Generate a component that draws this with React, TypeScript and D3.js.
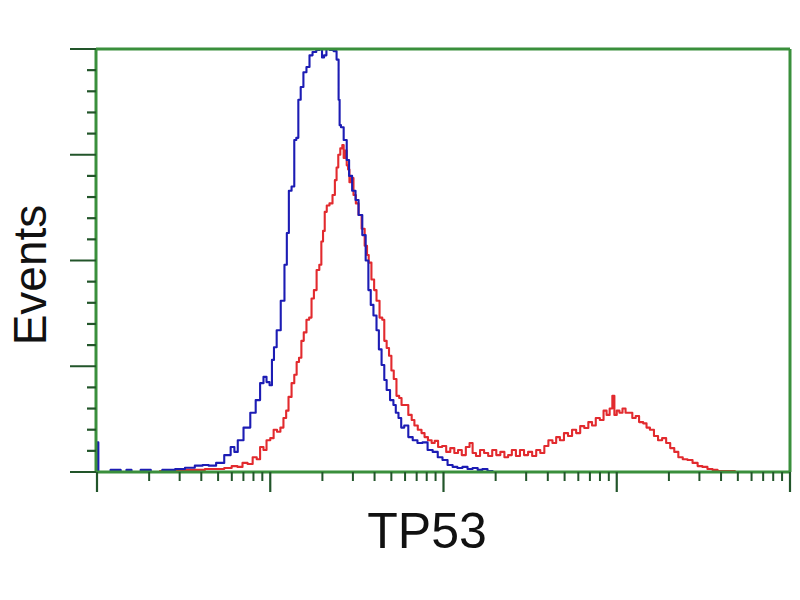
import React from "react";
import * as d3 from "d3";

// Histogram channels (0–1024 over 4 log decades) and event counts
const blueChannels = [0, 1, 3, 10, 30, 40, 47, 55, 74, 85, 108, 123, 137, 152, 160, 170, 182, 194, 201, 205, 211, 222, 231, 238, 244, 248, 253, 257, 260, 263, 268, 275, 279, 282, 285, 290, 293, 296, 299, 303, 307, 312, 316, 321, 327, 331, 334, 337, 341, 347, 352, 356, 358, 359, 362, 367, 371, 374, 380, 384, 389, 395, 399, 403, 406, 411, 415, 418, 423, 426, 430, 436, 440, 443, 448, 451, 457, 463, 470, 477, 485, 492, 500, 507, 514, 522, 529, 536, 544, 551, 559, 566, 573, 581, 588];
const blueCounts = [0, 14, 0, 0, 1, 0, 1, 0, 1, 0, 1, 1.4, 2, 3, 3.3, 3, 4.3, 8, 11.8, 9.5, 15, 21, 28, 34, 42, 45, 42.5, 41, 53, 59, 67, 81, 98, 113, 133, 135, 157, 158, 176, 182, 189, 191.5, 197, 198.6, 199.5, 200, 196, 197, 200, 199.5, 199, 195, 176, 164, 163, 157, 147.5, 140, 133, 128.6, 121.5, 112, 100, 86, 79, 74, 67, 58, 50.6, 43.5, 38.8, 34, 31.7, 28, 25.5, 21, 22, 16.5, 15, 13.7, 14, 10.4, 9.5, 7, 5.7, 3.3, 2.4, 1.9, 2.4, 1.4, 1.9, 1, 1.4, 0.5, 0];

const redChannels = [0, 78, 108, 137, 152, 167, 182, 194, 204, 211, 219, 226, 234, 238, 244, 248, 253, 259, 263, 269, 273, 278, 281, 285, 290, 293, 297, 300, 304, 307, 312, 315, 319, 322, 327, 330, 333, 335, 338, 341, 346, 350, 353, 355, 358, 361, 364, 365, 368, 370, 372, 374, 377, 381, 384, 389, 393, 398, 400, 403, 408, 411, 415, 420, 423, 426, 430, 433, 437, 440, 445, 448, 452, 457, 463, 467, 471, 477, 482, 486, 492, 497, 501, 507, 513, 519, 525, 531, 536, 542, 548, 553, 557, 563, 569, 575, 581, 587, 593, 599, 605, 610, 616, 622, 628, 634, 640, 646, 652, 658, 664, 670, 676, 681, 687, 693, 699, 705, 711, 717, 723, 729, 734, 740, 746, 751, 755, 760, 763, 766, 770, 774, 779, 783, 788, 794, 798, 804, 810, 814, 820, 826, 832, 838, 844, 850, 856, 862, 869, 876, 884, 891, 898, 906, 913, 921, 935, 950, 962];
const redCounts = [0, 0, 0.5, 1, 1, 1.4, 1.4, 1.9, 2.8, 2.4, 4.3, 3.8, 7, 6, 11.8, 10.4, 15, 16, 20, 19, 21, 25.5, 29, 35.5, 42, 46, 52, 54, 62, 66, 72, 73, 82, 86, 95.5, 98, 109, 114, 123, 126, 127, 131, 138, 144, 150, 153, 154.6, 148.5, 152, 145, 143, 137, 139, 131, 127, 121.5, 115, 107, 102.6, 99, 91, 86, 81, 73, 72, 62, 58.6, 55, 48, 44, 36, 35, 31.7, 31.7, 27, 24.6, 22, 20, 18.4, 16.5, 15, 13.7, 14.7, 11.8, 12.3, 9.5, 11.3, 9, 10.4, 8, 11.8, 13.7, 9, 7.6, 10.4, 9, 7.6, 10.4, 8, 9.5, 7, 8, 10.4, 7.6, 10.4, 8, 9.5, 7.6, 10.4, 9, 12.3, 15, 13.7, 16.5, 15, 18.4, 17, 20, 18.4, 21.7, 20.8, 23.6, 22, 25.5, 24.6, 29, 27, 30, 36, 27, 29, 28, 30, 28, 28, 25.5, 26.5, 23.6, 23, 21, 20, 17, 15, 16, 13.7, 11.3, 9.5, 7, 6, 5.7, 4.3, 2.8, 2.4, 1.4, 1, 0.5, 0.5, 0, 0];

const xDecades = [1, 10, 100, 1000, 10000];
const yMajorTicks = [0, 50, 100, 150, 200];
const yMinorTicks = [10, 20, 30, 40, 60, 70, 80, 90, 110, 120, 130, 140, 160, 170, 180, 190];
const xTitle = "TP53";
const yTitle = "Events";

const W = 800, H = 600;
const left = 96, right = 790, top = 49, bottom = 472;

export default function App() {
  const xCh = d3.scaleLinear().domain([0, 1024]).range([97, right]);
  const xLog = d3.scaleLog().domain([1, 10000]).range([97, right]);
  const y = d3.scaleLinear().domain([0, 200]).range([bottom, top]);

  const line = d3
    .line<[number, number]>()
    .x((d) => xCh(d[0]))
    .y((d) => y(d[1]))
    .curve(d3.curveStep);

  const blue = blueChannels.map((c, i) => [c, blueCounts[i]] as [number, number]);
  const red = redChannels.map((c, i) => [c, redCounts[i]] as [number, number]);

  const minorX: number[] = [];
  for (let d = 0; d < 4; d++) {
    for (let k = 2; k <= 9; k++) minorX.push(k * xDecades[d]);
  }

  const frame = "#3a8f3c";
  const tick = "#22552a";

  return (
    <svg width={W} height={H} style={{ position: "absolute", left: 0, top: 0, background: "#fff" }}>
      <rect x={0} y={0} width={W} height={H} fill="#fff" />
      {/* data */}
      <path d={line(red) || ""} fill="none" stroke="#e22a2e" strokeWidth={2.1} strokeLinejoin="round" />
      <path d={line(blue) || ""} fill="none" stroke="#1c1cb4" strokeWidth={2.1} strokeLinejoin="round" />

      {/* frame */}
      <line x1={left} x2={right} y1={top} y2={top} stroke={frame} strokeWidth={3} />
      <line x1={right} x2={right} y1={top} y2={bottom} stroke={frame} strokeWidth={3} />
      <line x1={left} x2={right} y1={bottom} y2={bottom} stroke={frame} strokeWidth={3} />
      <line x1={left} x2={left} y1={top} y2={bottom} stroke={frame} strokeWidth={3} />

      {/* y ticks */}
      {yMajorTicks.map((t) => (
        <line key={"ym" + t} x1={70} x2={left} y1={y(t)} y2={y(t)} stroke={tick} strokeWidth={2} />
      ))}
      {yMinorTicks.map((t) => (
        <line key={"yn" + t} x1={87} x2={left} y1={y(t)} y2={y(t)} stroke={tick} strokeWidth={2.2} />
      ))}

      {/* x ticks */}
      {xDecades.map((t) => (
        <line key={"xm" + t} x1={xLog(t)} x2={xLog(t)} y1={bottom} y2={492} stroke={tick} strokeWidth={2.2} />
      ))}
      {minorX.map((t) => (
        <line key={"xn" + t} x1={xLog(t)} x2={xLog(t)} y1={bottom} y2={481} stroke={tick} strokeWidth={2} />
      ))}

      {/* titles */}
      <text
        transform="translate(46,275) rotate(-90)"
        textAnchor="middle"
        fontFamily="'Liberation Sans', Arial, sans-serif"
        fontSize={46}
        fill="#111"
      >
        {yTitle}
      </text>
      <text
        x={427}
        y={548}
        textAnchor="middle"
        fontFamily="'Liberation Sans', Arial, sans-serif"
        fontSize={50}
        fill="#111"
      >
        {xTitle}
      </text>
    </svg>
  );
}
